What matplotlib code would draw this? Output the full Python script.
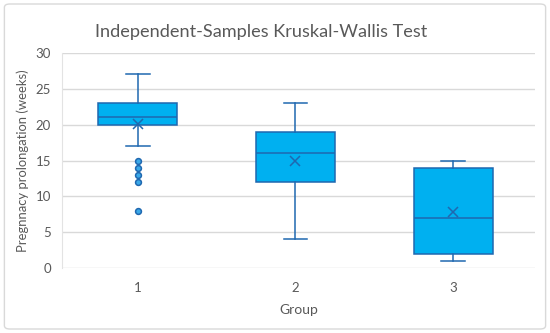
import matplotlib
matplotlib.use("Agg")
import matplotlib.pyplot as plt
from matplotlib.patches import FancyBboxPatch

groups = ["1", "2", "3"]
whislo = [17, 4, 1]
q1 = [20, 12, 2]
med = [21, 16, 7]
q3 = [23, 19, 14]
whishi = [27, 23, 15]
means = [20.1, 15.0, 7.8]
outliers = [[15, 14, 13, 12, 8], [], []]

yticks = [0, 5, 10, 15, 20, 25, 30]

plt.rcParams['font.family'] = ['Lato', 'DejaVu Sans']

fig = plt.figure(figsize=(5.5, 3.33), dpi=100)
border = FancyBboxPatch((0.008, 0.012), 0.984, 0.976, boxstyle="round,pad=0,rounding_size=0.01",
                        transform=fig.transFigure, facecolor='none', edgecolor='#D9D9D9', lw=1,
                        zorder=-1)
fig.patches.append(border)

ax = fig.add_axes([0.113, 0.195, 0.86, 0.646])
ax.set_facecolor('none')

stats = []
for i in range(len(groups)):
    stats.append(dict(label=groups[i], whislo=whislo[i], q1=q1[i], med=med[i], q3=q3[i],
                      whishi=whishi[i], mean=means[i], fliers=outliers[i]))

edge = '#1F68B0'
fill = '#00B0F0'
ax.bxp(stats, positions=[1, 2, 3], widths=0.5, patch_artist=True, showmeans=True,
       boxprops=dict(facecolor=fill, edgecolor=edge, linewidth=1.1),
       medianprops=dict(color=edge, linewidth=1.1),
       whiskerprops=dict(color=edge, linewidth=1.1),
       capprops=dict(color=edge, linewidth=1.1),
       capwidths=0.15,
       meanprops=dict(marker='x', markeredgecolor=edge, markersize=7, markeredgewidth=1.1),
       flierprops=dict(marker='o', markerfacecolor='#3AA8E8', markeredgecolor=edge,
                       markersize=4.2, markeredgewidth=1.1))

ax.set_xlim(0.52, 3.52)
ax.set_ylim(0, 30)
ax.set_yticks(yticks)
ax.yaxis.grid(True, color='#D9D9D9', linewidth=1)
ax.set_axisbelow(True)
for s in ['top', 'right', 'bottom']:
    ax.spines[s].set_visible(False)
ax.spines['left'].set_color('#E3E3E3')
ax.tick_params(axis='both', length=0, colors='#595959', labelsize=9.5)
ax.tick_params(axis='x', pad=10)
ax.tick_params(axis='y', pad=8)

ax.set_xlabel('Group', color='#595959', fontsize=10, labelpad=7)
ax.set_ylabel('Pregnnacy prolongation (weeks)', color='#595959', fontsize=9.4, labelpad=5)
fig.text(0.475, 0.905, 'Independent-Samples Kruskal-Wallis Test', ha='center', va='center',
         color='#595959', fontsize=13.1)

fig.savefig('out.png', dpi=100)
